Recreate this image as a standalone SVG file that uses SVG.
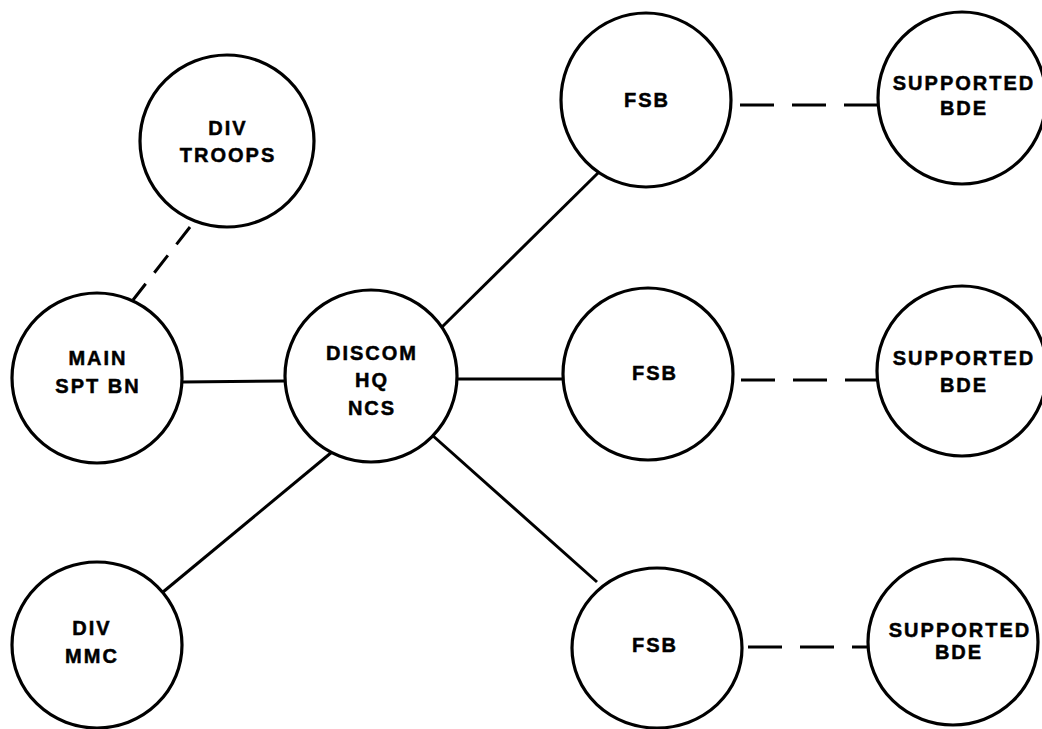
<svg xmlns="http://www.w3.org/2000/svg" width="1042" height="729" viewBox="0 0 1042 729">
<style>
.node{fill:#fff;stroke:#000;stroke-width:3.2}
.lbl{font-family:"Liberation Sans",Arial,sans-serif;font-weight:bold;font-size:20px;letter-spacing:2px;fill:#000;stroke:#000;stroke-width:0.5;text-anchor:middle}
.link{stroke:#000;stroke-width:3;fill:none}
.dash{stroke-dasharray:34 18}
.dash2{stroke-dasharray:22 14}
</style>
<rect width="1042" height="729" fill="#fff"/>
<g id="connectors">
<line class="link dash2" x1="190" y1="227" x2="133" y2="300"/>
<line class="link" x1="182" y1="382" x2="285" y2="381"/>
<line class="link" x1="442" y1="327" x2="598" y2="173"/>
<line class="link" x1="457" y1="379" x2="563" y2="379"/>
<line class="link" x1="432" y1="435" x2="597" y2="582"/>
<line class="link" x1="332" y1="452" x2="163" y2="592"/>
<line class="link dash" x1="740" y1="105" x2="878" y2="105"/>
<line class="link dash" x1="741" y1="380" x2="877" y2="380"/>
<line class="link dash" x1="748" y1="647" x2="868" y2="647"/>
</g>
<g id="div-troops">
<ellipse class="node" cx="227" cy="141" rx="87" ry="86"/>
<text class="lbl" x="228" y="135">DIV</text>
<text class="lbl" x="228" y="162">TROOPS</text>
</g>
<g id="main-spt-bn">
<ellipse class="node" cx="97" cy="378" rx="85" ry="85"/>
<text class="lbl" x="98" y="365">MAIN</text>
<text class="lbl" x="98" y="393">SPT BN</text>
</g>
<g id="discom">
<ellipse class="node" cx="371" cy="376" rx="86" ry="86"/>
<text class="lbl" x="372" y="360">DISCOM</text>
<text class="lbl" x="372" y="387">HQ</text>
<text class="lbl" x="372" y="415">NCS</text>
</g>
<g id="div-mmc">
<ellipse class="node" cx="97" cy="645" rx="85" ry="83"/>
<text class="lbl" x="92" y="635">DIV</text>
<text class="lbl" x="92" y="663">MMC</text>
</g>
<g id="fsb-1">
<ellipse class="node" cx="646" cy="100" rx="85" ry="87"/>
<text class="lbl" x="647" y="107">FSB</text>
</g>
<g id="fsb-2">
<ellipse class="node" cx="648" cy="374" rx="85" ry="86"/>
<text class="lbl" x="655" y="380">FSB</text>
</g>
<g id="fsb-3">
<ellipse class="node" cx="657" cy="648" rx="85" ry="80"/>
<text class="lbl" x="655" y="652">FSB</text>
</g>
<g id="bde-1">
<ellipse class="node" cx="962" cy="98" rx="84" ry="86"/>
<text class="lbl" x="964" y="90">SUPPORTED</text>
<text class="lbl" x="964" y="115">BDE</text>
</g>
<g id="bde-2">
<ellipse class="node" cx="962" cy="371" rx="85" ry="85"/>
<text class="lbl" x="964" y="365">SUPPORTED</text>
<text class="lbl" x="964" y="392">BDE</text>
</g>
<g id="bde-3">
<ellipse class="node" cx="953" cy="642" rx="85" ry="83"/>
<text class="lbl" x="960" y="637">SUPPORTED</text>
<text class="lbl" x="959" y="659">BDE</text>
</g>
</svg>
